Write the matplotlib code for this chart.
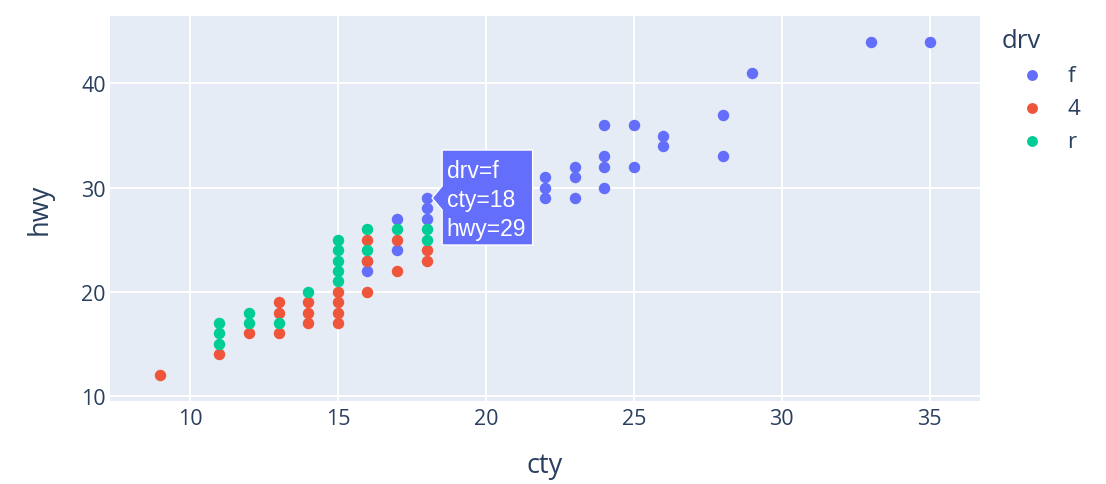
import matplotlib
matplotlib.use("Agg")
import matplotlib.pyplot as plt
from matplotlib.patches import Polygon
from matplotlib.transforms import ScaledTranslation

# mpg: cty vs hwy, split by drv
f_cty = [16, 16, 17, 17, 18, 18, 18, 22, 22, 22, 23, 23, 23, 24, 24, 24, 24,
         25, 25, 26, 26, 28, 28, 29, 33, 35]
f_hwy = [22, 23, 27, 24, 29, 28, 27, 31, 30, 29, 32, 31, 29, 36, 33, 32, 30,
         36, 32, 35, 34, 37, 33, 41, 44, 44]

d4_cty = [9, 11, 12, 13, 13, 13, 14, 14, 14, 15, 15, 15, 15, 16, 16, 16,
          17, 17, 18, 18]
d4_hwy = [12, 14, 16, 19, 18, 16, 19, 18, 17, 20, 19, 18, 17, 25, 23, 20,
          25, 22, 24, 23]

r_cty = [11, 11, 11, 12, 12, 13, 14, 15, 15, 15, 15, 15, 16, 16, 17, 18, 18]
r_hwy = [17, 16, 15, 18, 17, 17, 20, 25, 24, 23, 22, 21, 26, 24, 26, 26, 25]

groups = ["f", "4", "r"]
colors = ["#636EFA", "#EF553B", "#00CC96"]

x_ticks = [10, 15, 20, 25, 30, 35]
y_ticks = [10, 20, 30, 40]

# hovered point
hover_drv, hover_cty, hover_hwy = "f", 18, 29

txt = "#2a3f5f"
plt.rcParams["font.family"] = ["Open Sans", "DejaVu Sans"]

fig = plt.figure(figsize=(11.06, 4.85), dpi=100)
ax = fig.add_axes([110 / 1106, 83 / 485, 870 / 1106, 385 / 485])
ax.set_facecolor("#E5ECF6")

series = [(f_cty, f_hwy), (d4_cty, d4_hwy), (r_cty, r_hwy)]
for i, (name, col, (xs, ys)) in enumerate(zip(groups, colors, series)):
    ax.scatter(xs, ys, s=68, color=col, linewidths=0, label=name, zorder=3 + i)

ax.set_xlim(7.3, 36.7)
ax.set_ylim(9.52, 46.47)
ax.set_xticks(x_ticks)
ax.set_yticks(y_ticks)
ax.grid(True, color="white", linewidth=1.4, zorder=1)
ax.set_axisbelow(True)
for sp in ax.spines.values():
    sp.set_visible(False)
ax.tick_params(length=0, labelsize=15.5, colors=txt)
ax.tick_params(axis="x", pad=5)
ax.tick_params(axis="y", pad=3)
ax.set_xlabel("cty", fontsize=19.5, color=txt, labelpad=16)
ax.set_ylabel("hwy", fontsize=19.5, color=txt, labelpad=20)

leg = ax.legend(title="drv", loc="upper left", bbox_to_anchor=(1002 / 1106, 1 - 29 / 485),
                bbox_transform=fig.transFigure, frameon=False, fontsize=16,
                title_fontsize=18.5, alignment="left", borderpad=0, borderaxespad=0,
                handlelength=2.7, handletextpad=0.25, labelspacing=0.54, markerscale=0.95)
for t in leg.get_texts():
    t.set_color(txt)
leg.get_title().set_color(txt)

# hover label, drawn in pixel offsets from the hovered point
anchor = fig.dpi_scale_trans + ScaledTranslation(hover_cty, hover_hwy, ax.transData)
pts = [(5.5, 0), (15.5, -12), (15.5, -47), (106, -47), (106, 48), (15.5, 48), (15.5, 12)]
box = Polygon([(x / 100, y / 100) for x, y in pts], closed=True, transform=anchor,
              facecolor=colors[0], edgecolor="white", linewidth=1.0, zorder=10)
ax.add_patch(box)
lines = ["drv=%s" % hover_drv, "cty=%d" % hover_cty, "hwy=%d" % hover_hwy]
for k, s in enumerate(lines):
    ax.annotate(s, xy=(hover_cty, hover_hwy), xytext=(20, 28 - 29 * k),
                textcoords="offset pixels", ha="left", va="center", fontsize=16.5,
                color="white", family=["Liberation Sans", "DejaVu Sans"], zorder=11)

fig.savefig("out.png", dpi=100)
